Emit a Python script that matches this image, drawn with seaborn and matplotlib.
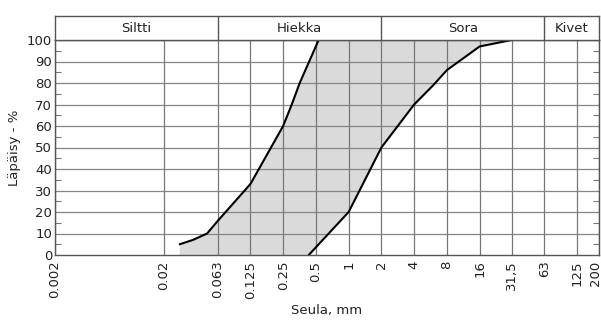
import matplotlib
matplotlib.use("Agg")
import matplotlib.pyplot as plt
import matplotlib.transforms as mtransforms
import seaborn as sns
import pandas as pd

# --- data ---
sieve_ticks = [0.002, 0.02, 0.063, 0.125, 0.25, 0.5, 1, 2, 4, 8, 16, 31.5, 63, 125, 200]
sieve_labels = ["0.002", "0.02", "0.063", "0.125", "0.25", "0.5", "1", "2", "4", "8",
                "16", "31,5", "63", "125", "200"]
fine_size = [0.028, 0.037, 0.05, 0.063, 0.125, 0.25, 0.3, 0.355, 0.53]
fine_pass = [5, 7, 10, 16, 33, 60, 70, 80, 100]
coarse_size = [0.43, 1, 2, 4, 6, 8, 16, 31.5]
coarse_pass = [0, 20, 50, 70, 79, 86, 97, 100]
classes = ["Siltti", "Hiekka", "Sora", "Kivet"]
class_bounds = [0.002, 0.063, 2, 63, 200]

sns.set_theme(style="white")
plt.rcParams["font.family"] = ["DejaVu Sans"]

W, H = 601, 326
fig = plt.figure(figsize=(W / 100, H / 100), dpi=100)
fig.patch.set_facecolor("white")

L, R, B, T, HT = 55, 599, 255, 40, 16
ax = fig.add_axes([L / W, 1 - B / H, (R - L) / W, (B - T) / H])
hx = fig.add_axes([L / W, 1 - T / H, (R - L) / W, (T - HT) / H], sharex=ax)

ax.set_xscale("log")
ax.set_xlim(0.002, 200)
ax.set_ylim(0, 100)

# fill between the two curves
poly_x = [fine_size[0]] + fine_size + coarse_size[::-1] + [coarse_size[0], fine_size[0]]
poly_y = [0] + fine_pass + coarse_pass[::-1] + [0, 0]
ax.fill(poly_x, poly_y, color="#dadada", zorder=1, lw=0)

# grid
for xv in sieve_ticks:
    ax.axvline(xv, color="#777777", lw=0.9, zorder=2)
for yv in range(10, 100, 10):
    ax.axhline(yv, color="#858585", lw=0.9, zorder=2)

df_f = pd.DataFrame({"size": fine_size, "pass": fine_pass})
df_c = pd.DataFrame({"size": coarse_size, "pass": coarse_pass})
sns.lineplot(data=df_f, x="size", y="pass", ax=ax, color="black", lw=1.5, zorder=3,
             sort=False, estimator=None)
sns.lineplot(data=df_c, x="size", y="pass", ax=ax, color="black", lw=1.5, zorder=3,
             sort=False, estimator=None)

ax.set_xticks(sieve_ticks)
ax.set_xticklabels(sieve_labels, rotation=90, fontsize=9.5, color="#222222")
ax.xaxis.set_minor_locator(matplotlib.ticker.NullLocator())
ax.set_yticks(range(0, 101, 10))
ax.set_yticklabels([str(v) for v in range(0, 101, 10)], fontsize=9.5, color="#222222")
ax.set_yticks(range(5, 100, 10), minor=True)
ax.tick_params(axis="y", which="major", length=0, pad=2)
ax.tick_params(axis="y", which="minor", length=4, direction="in", left=True, right=True,
               color="#777777", width=0.8)
ax.tick_params(axis="x", which="major", length=0, pad=4)
# nudge the last label so it stays inside the figure
last = ax.get_xticklabels()[-1]
last.set_transform(last.get_transform() +
                   mtransforms.ScaledTranslation(-4 / 100, 0, fig.dpi_scale_trans))
ax.set_xlabel("Seula, mm", fontsize=9.5, color="#222222", labelpad=4)
ax.set_ylabel("Läpäisy - %", fontsize=9.5, color="#222222", labelpad=4)
for s in ax.spines.values():
    s.set_color("#555555")
    s.set_linewidth(1.0)

# header with soil classes
hx.set_ylim(0, 1)
hx.set_yticks([])
hx.tick_params(axis="x", which="both", bottom=False, labelbottom=False, top=False)
for b in class_bounds[1:-1]:
    hx.axvline(b, color="#555555", lw=1.0)
for i, name in enumerate(classes):
    lo, hi = class_bounds[i], class_bounds[i + 1]
    cx = (lo * hi) ** 0.5
    hx.text(cx, 0.5, name, ha="center", va="center", fontsize=9.5, color="#222222")
for s in hx.spines.values():
    s.set_color("#555555")
    s.set_linewidth(1.0)

fig.savefig("out.png", dpi=100, facecolor="white")
